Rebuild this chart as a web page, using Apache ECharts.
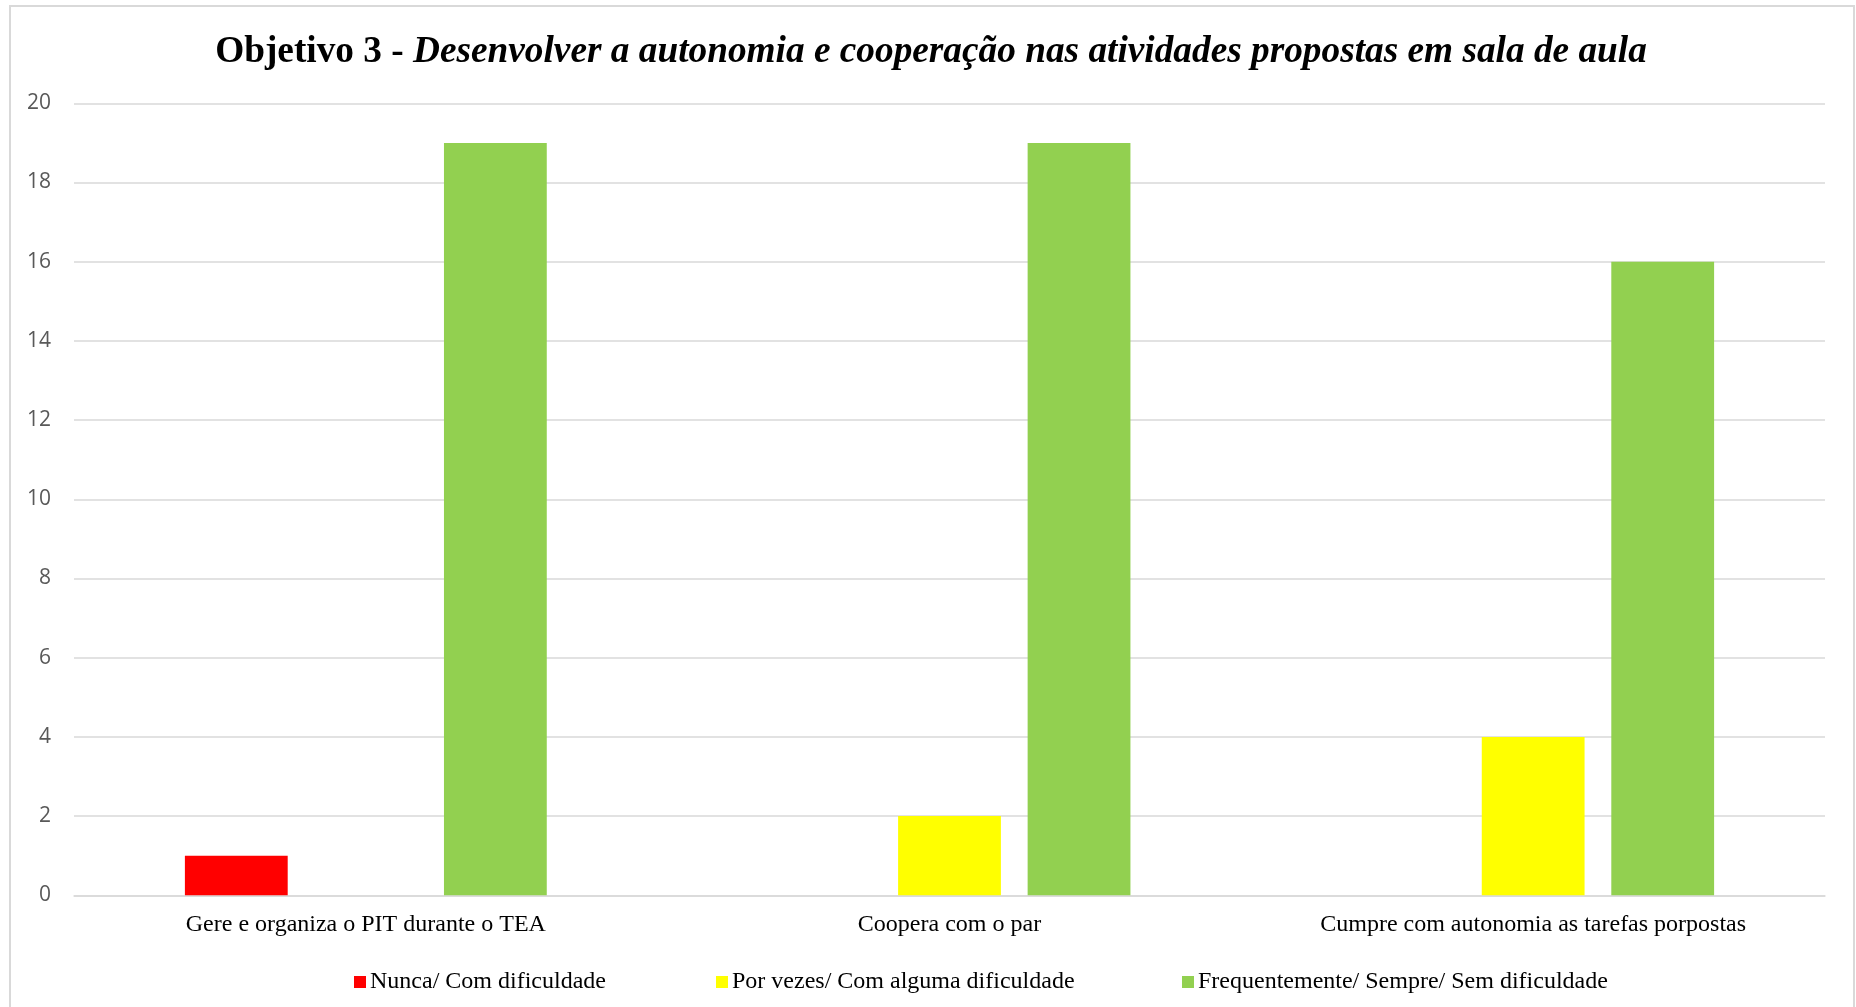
<!DOCTYPE html>
<html>
<head>
<meta charset="utf-8">
<script src="https://cdn.jsdelivr.net/npm/echarts@6/dist/echarts.min.js"></script>
<style>
  html, body { margin: 0; padding: 0; background: #ffffff; }
  #chart { width: 1856px; height: 1007px; }
</style>
</head>
<body>
<div id="chart"></div>
<script>
// Objective 3 survey results: number of students per answer level
const categories = [
  'Gere e organiza o PIT durante o TEA',
  'Coopera com o par',
  'Cumpre com autonomia as tarefas porpostas'
];
const seriesNames = [
  'Nunca/ Com dificuldade',
  'Por vezes/ Com alguma dificuldade',
  'Frequentemente/ Sempre/ Sem dificuldade'
];
const nunca = [1, 0, 0];
const porVezes = [0, 2, 4];
const frequentemente = [19, 19, 16];
const yTicks = { min: 0, max: 20, interval: 2 };

const colors = ['#FF0000', '#FFFF00', '#92D050'];
const serifFont = '"Liberation Serif", "Times New Roman", serif';
const legendLefts = [354, 716, 1182];

const chart = echarts.init(document.getElementById('chart'), null, { renderer: 'canvas' });

const values = [nunca, porVezes, frequentemente];

chart.setOption({
  animation: false,
  backgroundColor: '#ffffff',
  title: {
    text: '{b|Objetivo 3 - }{bi|Desenvolver a autonomia e cooperação nas atividades propostas em sala de aula}',
    left: 931,
    top: 34,
    padding: 0,
    textAlign: 'center',
    textStyle: {
      rich: {
        b: { fontFamily: serifFont, fontWeight: 'bold', fontSize: 37.3, color: '#000000' },
        bi: { fontFamily: serifFont, fontWeight: 'bold', fontStyle: 'italic', fontSize: 37.3, color: '#000000' }
      }
    }
  },
  graphic: [{
    type: 'rect',
    silent: true,
    z: -1,
    shape: { x: 10, y: 6, width: 1844, height: 1100 },
    style: { fill: 'none', stroke: '#D9D9D9', lineWidth: 2 }
  }],
  legend: seriesNames.map((name, i) => ({
    data: [name],
    left: legendLefts[i],
    top: 970,
    padding: 0,
    itemWidth: 12,
    itemHeight: 12,
    itemGap: 0,
    icon: 'rect',
    selectedMode: false,
    textStyle: { fontFamily: serifFont, fontSize: 24, color: '#000000', padding: [0, 0, 0, -1] }
  })),
  grid: { left: 74, right: 31, top: 103.3, bottom: 111.7, containLabel: false },
  xAxis: {
    type: 'category',
    data: categories,
    axisLine: { lineStyle: { color: '#D9D9D9', width: 1.5 } },
    axisTick: { show: false },
    axisLabel: { margin: 17, fontFamily: serifFont, fontSize: 24, color: '#000000', interval: 0 }
  },
  yAxis: {
    type: 'value',
    min: yTicks.min,
    max: yTicks.max,
    interval: yTicks.interval,
    axisLine: { show: false },
    axisTick: { show: false },
    axisLabel: { margin: 23, fontFamily: '"Open Sans", sans-serif', fontSize: 21, color: '#595959' },
    splitLine: { lineStyle: { color: '#D9D9D9', width: 1.5 } }
  },
  series: seriesNames.map((name, i) => ({
    name: name,
    type: 'bar',
    data: values[i],
    barGap: '26%',
    barCategoryGap: '38%',
    itemStyle: { color: colors[i] }
  }))
});
</script>
</body>
</html>
